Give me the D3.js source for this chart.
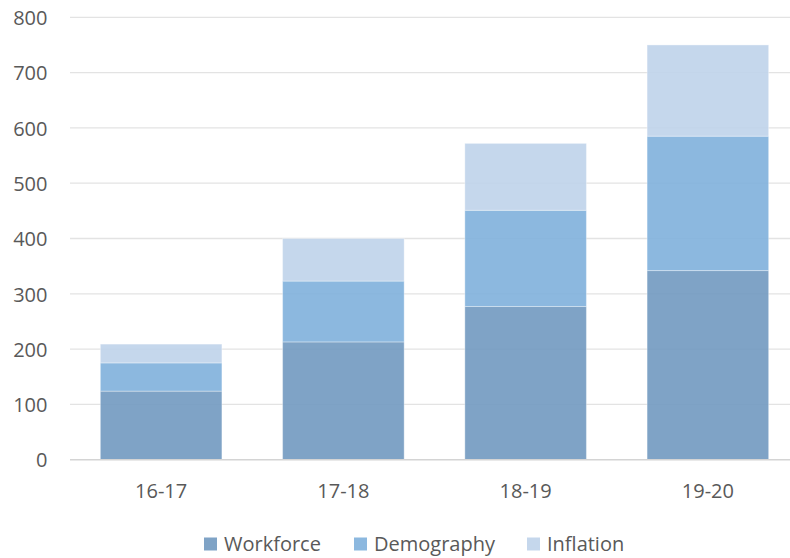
<!DOCTYPE html>
<html>
<head>
<meta charset="utf-8">
<script src="https://cdn.jsdelivr.net/npm/d3@7"></script>
<style>
  html, body { margin: 0; padding: 0; background: #fff; }
  svg text { font-family: "Open Sans", "Noto Sans", sans-serif; fill: #595959; }
</style>
</head>
<body>
<svg id="chart" width="790" height="558"></svg>
<script>
const categories = ["16-17", "17-18", "18-19", "19-20"];
const seriesNames = ["Workforce", "Demography", "Inflation"];
const workforce = [124, 213, 277, 342];
const demography = [51, 110, 174, 243];
const inflation = [34, 77, 121, 165];
const yTicks = [0, 100, 200, 300, 400, 500, 600, 700, 800];
const colors = ["#7199c0", "#7fb0dc", "#bfd3ea"];

const svg = d3.select("#chart");
const plotLeft = 70, plotRight = 790, plotTop = 17.3, plotBottom = 459.7;

const x = d3.scaleBand().domain(categories).range([plotLeft, 799]).paddingInner(0.333).paddingOuter(0.1665);
const y = d3.scaleLinear().domain([0, 800]).range([plotBottom, plotTop]);

const rows = categories.map((c, i) => ({ cat: c, Workforce: workforce[i], Demography: demography[i], Inflation: inflation[i] }));
const stacked = d3.stack().keys(seriesNames)(rows);

// gridlines
svg.append("g").selectAll("line").data(yTicks.filter(d => d > 0)).join("line")
  .attr("x1", plotLeft).attr("x2", plotRight)
  .attr("y1", d => y(d)).attr("y2", d => y(d))
  .attr("stroke", "#e3e3e3").attr("stroke-width", 1.3);

// bars
svg.append("g").selectAll("g").data(stacked).join("g")
  .attr("fill", (d, i) => colors[i])
  .selectAll("rect").data(d => d).join("rect")
  .attr("x", d => x(d.data.cat))
  .attr("width", x.bandwidth())
  .attr("y", d => y(d[1]))
  .attr("height", d => y(d[0]) - y(d[1]))
  .attr("fill-opacity", 0.9)
  .attr("stroke", "#ffffff").attr("stroke-opacity", 0.35).attr("stroke-width", 1);

// baseline
svg.append("line").attr("x1", plotLeft).attr("x2", plotRight)
  .attr("y1", y(0)).attr("y2", y(0))
  .attr("stroke", "#d4d4d4").attr("stroke-width", 1.5);

// y axis labels
const yAxis = d3.axisLeft(y).tickValues(yTicks).tickSize(0).tickPadding(0);
const yg = svg.append("g").attr("transform", `translate(47.5,0)`).call(yAxis);
yg.select(".domain").remove();
yg.selectAll("text").attr("font-size", "20px").attr("fill", "#595959")
  .style("font-family", '"Open Sans", sans-serif').attr("dy", "0.36em").attr("x", 0);

// x axis labels
const xAxis = d3.axisBottom(x).tickSize(0).tickPadding(0);
const xg = svg.append("g").attr("transform", `translate(0,${plotBottom})`).call(xAxis);
xg.select(".domain").remove();
xg.selectAll("text").attr("font-size", "20px").attr("fill", "#595959")
  .style("font-family", '"Open Sans", sans-serif').attr("dy", 0).attr("y", 38.5);

// legend
const legendX = [204, 354, 527];
const lg = svg.append("g").selectAll("g").data(seriesNames).join("g")
  .attr("transform", (d, i) => `translate(${legendX[i]},0)`);
lg.append("rect").attr("x", 0).attr("y", 537.5).attr("width", 13).attr("height", 13)
  .attr("fill", (d, i) => colors[i]).attr("fill-opacity", 0.9);
lg.append("text").attr("x", 20).attr("y", 550.5).attr("font-size", "20px").text(d => d);
</script>
</body>
</html>
